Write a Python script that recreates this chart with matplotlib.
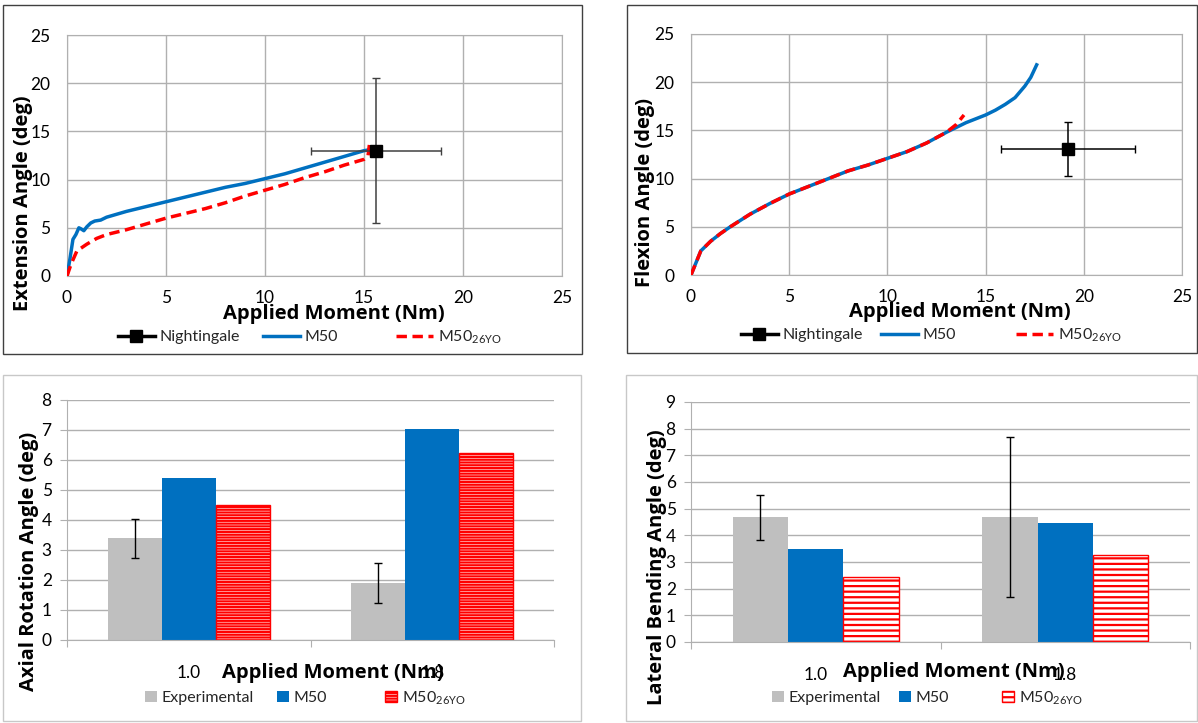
import matplotlib
matplotlib.use("Agg")
import matplotlib.pyplot as plt
from matplotlib.patches import Rectangle
from matplotlib.lines import Line2D
from matplotlib.patches import Patch
import numpy as np

plt.rcParams['font.family'] = ['Lato', 'DejaVu Sans']
plt.rcParams['hatch.linewidth'] = 1.6

# --- extension (top left) ---
ext_m50_x = [0, 0.15, 0.3, 0.45, 0.6, 0.7, 0.85, 1.0, 1.2, 1.4, 1.7, 2.0, 2.5, 3, 4, 5, 6, 7, 8, 9, 10, 11, 12, 13, 14, 15, 15.3]
ext_m50_y = [0, 1.8, 3.8, 4.3, 5.0, 4.9, 4.7, 5.1, 5.5, 5.7, 5.8, 6.1, 6.4, 6.7, 7.2, 7.7, 8.2, 8.7, 9.2, 9.6, 10.1, 10.6, 11.2, 11.8, 12.4, 13.0, 13.1]
ext_yo_x = [0, 0.2, 0.5, 1.0, 1.5, 2, 3, 4, 5, 6, 7, 8, 9, 10, 11, 12, 13, 14, 15, 15.2, 15.3]
ext_yo_y = [0, 1.2, 2.6, 3.3, 3.9, 4.3, 4.8, 5.4, 6.0, 6.5, 7.0, 7.6, 8.3, 8.9, 9.5, 10.2, 10.8, 11.5, 12.1, 12.4, 14.1]
ext_ng_x, ext_ng_y = 15.6, 13.0
ext_ng_xerr, ext_ng_yerr = 3.3, 7.5

# --- flexion (top right) ---
flx_m50_x = [0, 0.2, 0.5, 1, 1.5, 2, 3, 4, 5, 6, 7, 8, 9, 10, 11, 12, 13, 14, 15, 15.5, 16, 16.5, 17, 17.3, 17.6]
flx_m50_y = [0, 1.0, 2.5, 3.5, 4.3, 5.0, 6.3, 7.4, 8.4, 9.2, 10.0, 10.8, 11.4, 12.1, 12.8, 13.7, 14.8, 15.8, 16.6, 17.1, 17.7, 18.4, 19.6, 20.5, 21.8]
flx_yo_x = [0, 0.2, 0.5, 1, 1.5, 2, 3, 4, 5, 6, 7, 8, 9, 10, 11, 12, 13, 13.5, 13.9]
flx_yo_y = [0, 1.0, 2.5, 3.5, 4.3, 5.0, 6.3, 7.4, 8.4, 9.2, 10.0, 10.8, 11.4, 12.1, 12.8, 13.7, 14.8, 15.6, 16.6]
flx_ng_x, flx_ng_y = 19.2, 13.1
flx_ng_xerr, flx_ng_yerr = 3.4, 2.8

# --- bars ---
moments = ['1.0', '1.8']
axial_exp = [3.4, 1.9]
axial_exp_err = [0.65, 0.66]
axial_m50 = [5.4, 7.05]
axial_yo = [4.5, 6.25]
lat_exp = [4.67, 4.7]
lat_exp_err = [0.85, 3.0]
lat_m50 = [3.48, 4.45]
lat_yo = [2.45, 3.28]

BLUE = '#0070C0'
RED = '#FF0000'
GREY = '#BFBFBF'
GRID = '#B0B0B0'
DASH = (0, (3, 1.6))
TITLE_FONT = dict(family=['Open Sans', 'DejaVu Sans'], fontsize=14.5, fontweight='bold')
yo_label = 'M50$_{\\mathregular{26YO}}$'

fig = plt.figure(figsize=(11.98, 7.23), dpi=100)
W, H = 1198.0, 723.0


def fig_rect(x0, y0, x1, y1):
    # pixel box (top-left origin) -> figure fraction
    return [x0 / W, 1 - y1 / H, (x1 - x0) / W, (y1 - y0) / H]


# panel frames
for box, ec in [((3, 5, 582, 354), '#404040'), ((627, 5, 1197, 353), '#404040'),
                ((3, 375, 581, 721), '#C8C8C8'), ((626, 375, 1197, 721), '#C8C8C8')]:
    r = fig_rect(*box)
    fig.patches.append(Rectangle((r[0], r[1]), r[2], r[3], transform=fig.transFigure,
                                 fill=False, edgecolor=ec, linewidth=1.0))


def axis_titles(ax, ylabel, ylab_pos, xlab_pos):
    ax.text(xlab_pos[0], xlab_pos[1], 'Applied Moment (Nm)', transform=ax.transAxes,
            ha='center', va='center', **TITLE_FONT)
    ax.text(ylab_pos[0], ylab_pos[1], ylabel, transform=ax.transAxes, rotation=90,
            ha='center', va='center', **TITLE_FONT)


def line_panel(ax, m50x, m50y, yox, yoy, ngx, ngy, ngxe, ngye, ylabel, ylab_pos, xlab_pos, errc):
    ax.set_xlim(0, 25)
    ax.set_ylim(0, 25)
    ax.set_xticks(np.arange(0, 26, 5))
    ax.set_yticks(np.arange(0, 26, 5))
    ax.grid(True, color=GRID, linewidth=1.0)
    ax.set_axisbelow(True)
    for s in ax.spines.values():
        s.set_color(GRID)
    ax.tick_params(length=0, labelsize=12.5, pad=10)
    ax.tick_params(axis='y', pad=12)
    ax.errorbar([ngx], [ngy], xerr=[ngxe], yerr=[ngye], color='black', ecolor=errc,
                elinewidth=1.1, capsize=3, marker='s', markersize=8, linestyle='none', zorder=5)
    ax.plot(m50x, m50y, color=BLUE, linewidth=2.5, zorder=3)
    ax.plot(yox, yoy, color=RED, linewidth=2.5, linestyle=DASH, zorder=4)
    axis_titles(ax, ylabel, ylab_pos, xlab_pos)


def bar_panel(ax, exp, exp_err, m50, yo, ymax, ylabel, ylab_pos, xlab_pos, hatch):
    x = np.arange(len(moments))
    w = 0.222
    ax.bar(x - w, exp, w, color=GREY, zorder=2)
    ax.errorbar(x - w, exp, yerr=exp_err, fmt='none', ecolor='black', elinewidth=1.0,
                capsize=3, zorder=4)
    ax.bar(x, m50, w, color=BLUE, zorder=2)
    ax.bar(x + w, yo, w, color='white', edgecolor=RED, hatch=hatch, linewidth=1.0, zorder=2)
    ax.set_xlim(-0.5, 1.5)
    ax.set_ylim(0, ymax)
    ax.set_yticks(np.arange(0, ymax + 1, 1))
    ax.yaxis.grid(True, color=GRID, linewidth=1.0)
    ax.set_axisbelow(True)
    ax.spines['top'].set_visible(False)
    ax.spines['right'].set_visible(False)
    ax.spines['left'].set_color(GRID)
    ax.spines['bottom'].set_color(GRID)
    ax.set_xticks([-0.5, 0.5, 1.5])
    ax.set_xticklabels([])
    ax.set_xticks(x, minor=True)
    ax.set_xticklabels(moments, minor=True)
    ax.tick_params(axis='x', which='major', length=5, color=GRID)
    ax.tick_params(axis='x', which='minor', length=0, labelsize=12.5, pad=18)
    ax.tick_params(axis='y', length=5, color=GRID, labelsize=12.5, pad=6)
    axis_titles(ax, ylabel, ylab_pos, xlab_pos)


ax1 = fig.add_axes(fig_rect(67, 35, 562, 276))
line_panel(ax1, ext_m50_x, ext_m50_y, ext_yo_x, ext_yo_y, ext_ng_x, ext_ng_y,
           ext_ng_xerr, ext_ng_yerr, 'Extension Angle (deg)', (-0.088, 0.30), (0.54, -0.158), '#404040')

ax2 = fig.add_axes(fig_rect(691, 34, 1182, 275))
line_panel(ax2, flx_m50_x, flx_m50_y, flx_yo_x, flx_yo_y, flx_ng_x, flx_ng_y,
           flx_ng_xerr, flx_ng_yerr, 'Flexion Angle (deg)', (-0.094, 0.344), (0.548, -0.154), 'black')

ax3 = fig.add_axes(fig_rect(67, 400, 554, 640))
bar_panel(ax3, axial_exp, axial_exp_err, axial_m50, axial_yo, 8,
          'Axial Rotation Angle (deg)', (-0.079, 0.327), (0.546, -0.137), '------')

ax4 = fig.add_axes(fig_rect(691, 402, 1190, 642))
bar_panel(ax4, lat_exp, lat_exp_err, lat_m50, lat_yo, 9,
          'Lateral Bending Angle (deg)', (-0.069, 0.31), (0.527, -0.125), '---')


def legend_entry(handle, label, px, py, **kw):
    # one legend per entry, left edge of the handle at pixel (px, py)
    fig.legend([handle], [label], loc='center left', bbox_to_anchor=(px / W, 1 - py / H),
               frameon=False, fontsize=11.5, borderpad=0, borderaxespad=0,
               handletextpad=0.3, labelcolor='#262626', **kw)


line_handles = [Line2D([], [], color='black', marker='s', markersize=8, linewidth=2.5),
                Line2D([], [], color=BLUE, linewidth=2.5),
                Line2D([], [], color=RED, linewidth=2.5, linestyle=DASH)]
line_labels = ['Nightingale', 'M50', yo_label]
for xs, py in [([118, 263, 396], 337), ([741, 881, 1016], 335)]:
    for h, lab, px in zip(line_handles, line_labels, xs):
        legend_entry(h, lab, px, py, handlelength=2.3)

for xs, hatch in [([145, 277, 385], '------'), ([772, 899, 1002], '---')]:
    bar_handles = [Patch(facecolor=GREY), Patch(facecolor=BLUE),
                   Patch(facecolor='white', edgecolor=RED, hatch=hatch)]
    for h, lab, px in zip(bar_handles, ['Experimental', 'M50', yo_label], xs):
        legend_entry(h, lab, px, 698, handlelength=0.75, handleheight=0.75)

fig.savefig('out.png', dpi=100)
